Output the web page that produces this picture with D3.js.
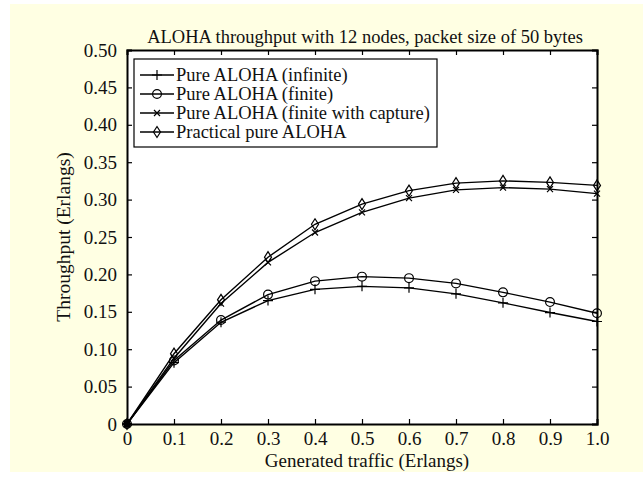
<!DOCTYPE html>
<html>
<head>
<meta charset="utf-8">
<script src="https://cdn.jsdelivr.net/npm/d3@7"></script>
<style>
  body { margin: 0; background: #fff; }
  svg { display: block; font-family: "Liberation Serif", "DejaVu Serif", serif; }
</style>
</head>
<body>
<div id="chart"></div>
<script>
const traffic = [0, 0.1, 0.2, 0.3, 0.4, 0.5, 0.6, 0.7, 0.8, 0.9, 1.0];
const pureInfinite = [0, 0.082, 0.136, 0.165, 0.180, 0.184, 0.182, 0.174, 0.162, 0.149, 0.137];
const pureFinite   = [0, 0.085, 0.139, 0.173, 0.191, 0.197, 0.195, 0.188, 0.176, 0.163, 0.148];
const pureCapture  = [0, 0.088, 0.161, 0.216, 0.256, 0.283, 0.302, 0.313, 0.316, 0.314, 0.308];
const practical    = [0, 0.094, 0.166, 0.223, 0.267, 0.294, 0.312, 0.322, 0.325, 0.323, 0.319];
const seriesNames = ["Pure ALOHA (infinite)", "Pure ALOHA (finite)",
                     "Pure ALOHA (finite with capture)", "Practical pure ALOHA"];
const markers = ["plus", "circle", "cross", "diamond"];
const xTicks = [0, 0.1, 0.2, 0.3, 0.4, 0.5, 0.6, 0.7, 0.8, 0.9, 1.0];
const xTickLabels = ["0", "0.1", "0.2", "0.3", "0.4", "0.5", "0.6", "0.7", "0.8", "0.9", "1.0"];
const yTicks = [0, 0.05, 0.10, 0.15, 0.20, 0.25, 0.30, 0.35, 0.40, 0.45, 0.50];
const yTickLabels = ["0", "0.05", "0.10", "0.15", "0.20", "0.25", "0.30", "0.35", "0.40", "0.45", "0.50"];

const width = 643, height = 481;
const m = {left: 127, right: 46, top: 50, bottom: 57};
const serif = "'Liberation Serif', 'DejaVu Serif', serif";
const svg = d3.select("#chart").append("svg").attr("width", width).attr("height", height);

svg.append("rect").attr("x", 10).attr("y", 4).attr("width", width - 10).attr("height", 468)
  .attr("fill", "#ffffe3");

const x = d3.scaleLinear().domain([0, 1]).range([m.left, width - m.right]);
const y = d3.scaleLinear().domain([0, 0.5]).range([height - m.bottom, m.top]);

svg.append("rect").attr("x", x(0)).attr("y", y(0.5))
  .attr("width", x(1) - x(0)).attr("height", y(0) - y(0.5)).attr("fill", "#fff");

// axes with inward ticks, mirrored on top and right
const tk = 5;
const axB = svg.append("g").attr("transform", `translate(0,${y(0)})`)
  .call(d3.axisBottom(x).tickValues(xTicks).tickFormat((d, i) => xTickLabels[i]).tickSize(-tk).tickPadding(7));
const axT = svg.append("g").attr("transform", `translate(0,${y(0.5)})`)
  .call(d3.axisTop(x).tickValues(xTicks).tickFormat("").tickSize(-tk));
const axL = svg.append("g").attr("transform", `translate(${x(0)},0)`)
  .call(d3.axisLeft(y).tickValues(yTicks).tickFormat((d, i) => yTickLabels[i]).tickSize(-tk).tickPadding(10));
const axR = svg.append("g").attr("transform", `translate(${x(1)},0)`)
  .call(d3.axisRight(y).tickValues(yTicks).tickFormat("").tickSize(-tk));
[axB, axT, axL, axR].forEach(a => {
  a.select(".domain").attr("stroke", "#000").attr("stroke-width", 2);
  a.selectAll(".tick line").attr("stroke", "#000").attr("stroke-width", 1.2);
  a.selectAll("text").attr("fill", "#111").style("font-size", "19px").style("font-family", serif);
});
axB.selectAll("text").attr("dy", "0.75em");

const all = [pureInfinite, pureFinite, pureCapture, practical];
const line = d3.line().x((d, i) => x(traffic[i])).y(d => y(d));

function drawMarker(g, type, cx, cy) {
  if (type === "plus") {
    g.append("path").attr("d", `M${cx - 5},${cy}H${cx + 5}M${cx},${cy - 5}V${cy + 5}`)
      .attr("stroke", "#000").attr("stroke-width", 1.2);
  } else if (type === "circle") {
    g.append("circle").attr("cx", cx).attr("cy", cy).attr("r", 4.4)
      .attr("fill", "none").attr("stroke", "#000").attr("stroke-width", 1.2);
  } else if (type === "cross") {
    g.append("path").attr("d", `M${cx - 3},${cy - 3}L${cx + 3},${cy + 3}M${cx - 3},${cy + 3}L${cx + 3},${cy - 3}`)
      .attr("stroke", "#000").attr("stroke-width", 1.2);
  } else {
    g.append("path").attr("d", `M${cx},${cy - 5.5}L${cx + 3.5},${cy}L${cx},${cy + 5.5}L${cx - 3.5},${cy}Z`)
      .attr("fill", "none").attr("stroke", "#000").attr("stroke-width", 1.2);
  }
}

all.forEach((vals, k) => {
  svg.append("path").datum(vals).attr("d", line)
    .attr("fill", "none").attr("stroke", "#000").attr("stroke-width", 1.4);
  const g = svg.append("g");
  vals.forEach((v, i) => drawMarker(g, markers[k], x(traffic[i]), y(v)));
});

// origin dot
svg.append("circle").attr("cx", x(0)).attr("cy", y(0)).attr("r", 3.5).attr("fill", "#000");

// legend
const lg = svg.append("g");
lg.append("rect").attr("x", 134).attr("y", 59).attr("width", 303).attr("height", 88)
  .attr("fill", "#fff").attr("stroke", "#000").attr("stroke-width", 1.2);
seriesNames.forEach((name, k) => {
  const ly = 75 + k * 19;
  lg.append("line").attr("x1", 140).attr("x2", 174).attr("y1", ly).attr("y2", ly)
    .attr("stroke", "#000").attr("stroke-width", 1.4);
  drawMarker(lg, markers[k], 157, ly);
  lg.append("text").attr("x", 176).attr("y", ly).attr("dy", "0.33em")
    .style("font-size", "18.5px").attr("fill", "#111").text(name);
});

// titles
svg.append("text").attr("x", 365).attr("y", 43).attr("text-anchor", "middle")
  .style("font-size", "18.5px").attr("fill", "#111")
  .text("ALOHA throughput with 12 nodes, packet size of 50 bytes");
svg.append("text").attr("x", 367).attr("y", 467).attr("text-anchor", "middle")
  .style("font-size", "19px").attr("fill", "#111").text("Generated traffic (Erlangs)");
svg.append("text").attr("transform", `translate(70,${(y(0) + y(0.5)) / 2}) rotate(-90)`)
  .attr("text-anchor", "middle").style("font-size", "19.5px").attr("fill", "#111")
  .text("Throughput (Erlangs)");
</script>
</body>
</html>
